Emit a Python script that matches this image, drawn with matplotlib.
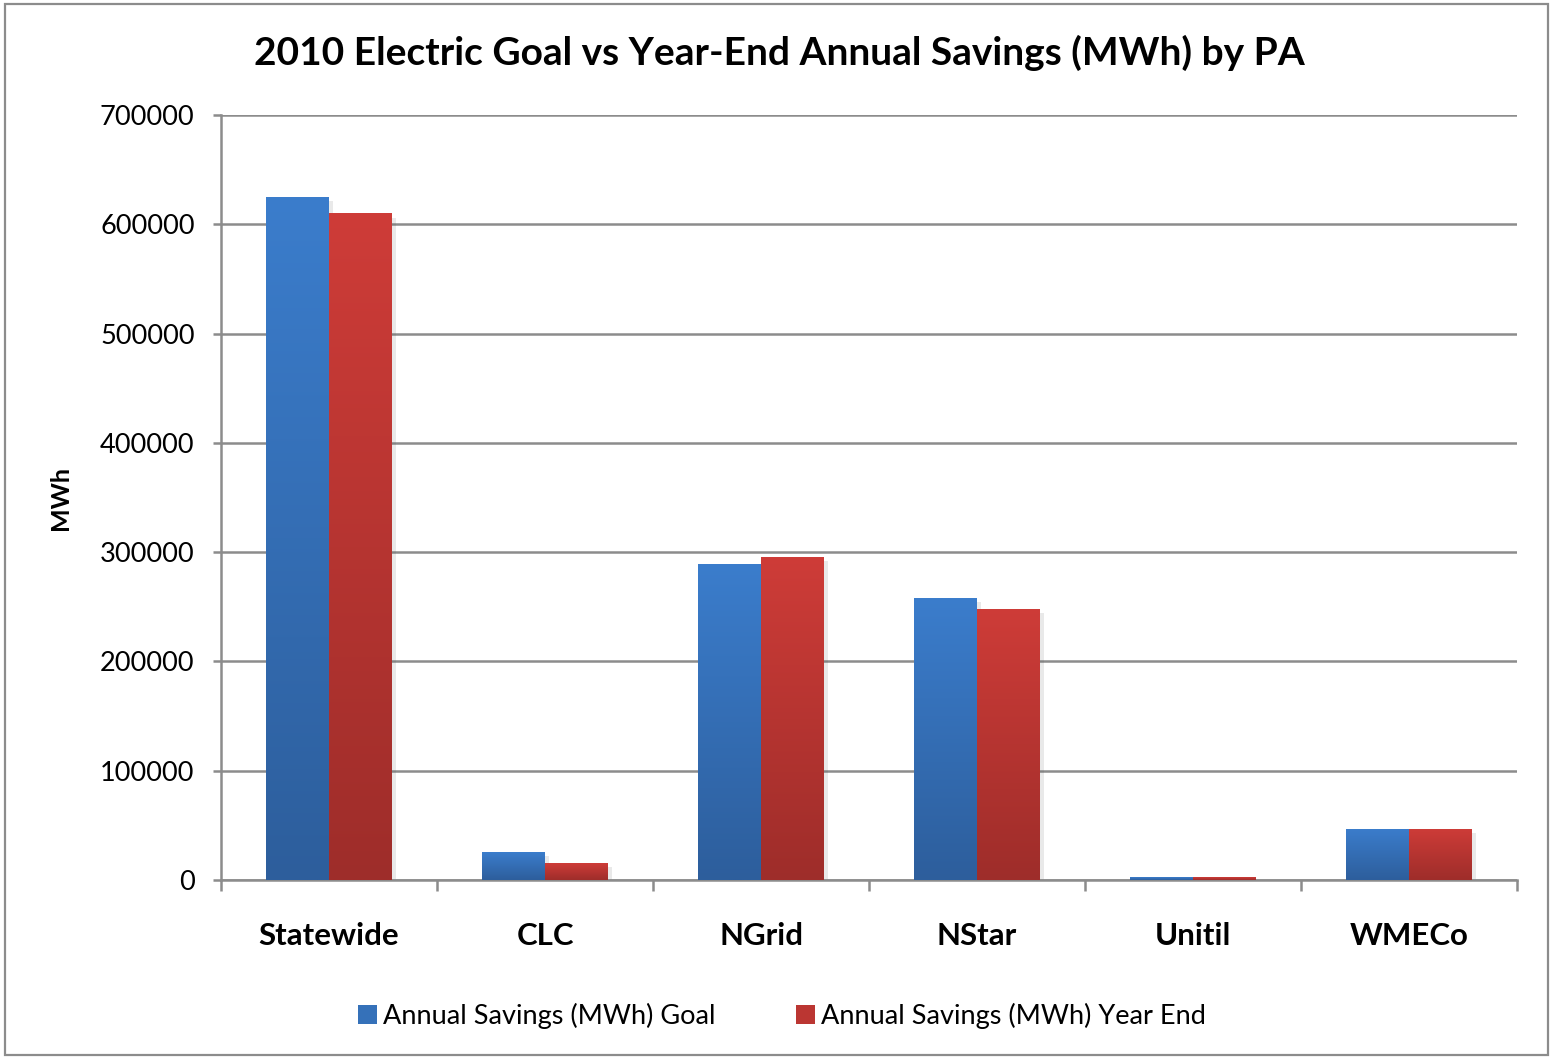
import numpy as np
import matplotlib
matplotlib.use("Agg")
import matplotlib.pyplot as plt
import matplotlib.patheffects as pe
from matplotlib.colors import LinearSegmentedColormap
from matplotlib.patches import Rectangle

plt.rcParams['font.family'] = ['Lato', 'DejaVu Sans']

categories = ['Statewide', 'CLC', 'NGrid', 'NStar', 'Unitil', 'WMECo']
goal = [625000, 25600, 289100, 258000, 2700, 46700]
year_end = [610000, 15500, 295500, 248000, 2700, 46700]
series_names = ['Annual Savings (MWh) Goal', 'Annual Savings (MWh) Year End']
yticks = [0, 100000, 200000, 300000, 400000, 500000, 600000, 700000]

blue_cmap = LinearSegmentedColormap.from_list('b', ['#2D5E9C', '#3B7DCC'])
red_cmap = LinearSegmentedColormap.from_list('r', ['#9E2D2A', '#CE3C38'])

fig = plt.figure(figsize=(15.5, 10.57), dpi=100)
ax = fig.add_axes([221 / 1550, 1 - 880 / 1057, (1517 - 221) / 1550, (880 - 115) / 1057])

# outer frame of the chart
fig.patches.append(Rectangle((0.003, 0.002), 0.996, 0.994, transform=fig.transFigure,
                             fill=False, edgecolor='#8c8c8c', linewidth=1.6))

x = np.arange(len(categories))
w = 0.29
grad = np.linspace(0, 1, 256).reshape(-1, 1)
shadow = [pe.SimplePatchShadow(offset=(3, -3), alpha=0.13, shadow_rgbFace='#555555'), pe.Normal()]

for vals, off, cmap in [(goal, -w / 2, blue_cmap), (year_end, w / 2, red_cmap)]:
    bars = ax.bar(x + off, vals, width=w, color=cmap(0.6), zorder=2, path_effects=shadow)
    for b in bars:
        im = ax.imshow(grad, cmap=cmap, origin='lower', aspect='auto', zorder=3,
                       extent=(b.get_x(), b.get_x() + b.get_width(), 0, b.get_height()))
        im.set_clip_path(b)

ax.set_xlim(-0.5, len(categories) - 0.5)
ax.set_ylim(0, 700000)
ax.set_yticks(yticks)
ax.set_yticklabels([str(t) for t in yticks], fontsize=19.5)
ax.yaxis.grid(True, color='#8c8c8c', linewidth=1.8, zorder=0)
ax.set_axisbelow(True)

ax.set_xticks(x)
ax.set_xticklabels(categories, fontsize=22.5, fontweight='bold')
ax.set_xticks(np.arange(-0.5, len(categories)), minor=True)
ax.tick_params(axis='x', which='major', length=0, pad=30)
ax.tick_params(axis='x', which='minor', length=8, width=1.8, color='#8c8c8c', direction='out')
ax.tick_params(axis='y', length=6, width=1.8, color='#8c8c8c', pad=13)

for s in ['top', 'right']:
    ax.spines[s].set_visible(False)
for s in ['left', 'bottom']:
    ax.spines[s].set_color('#8c8c8c')
    ax.spines[s].set_linewidth(1.8)

ax.set_ylabel('MWh', fontsize=18, fontweight='bold', labelpad=20)

fig.suptitle('2010 Electric Goal vs Year-End Annual Savings (MWh) by PA',
             x=(258 + 1300) / 2 / 1550, y=1 - 53 / 1057, va='center',
             fontsize=28, fontweight='bold')

handles = [Rectangle((0, 0), 1, 1, facecolor=blue_cmap(0.6)),
           Rectangle((0, 0), 1, 1, facecolor=red_cmap(0.6))]
fig.legend(handles, series_names, loc='center', bbox_to_anchor=(782 / 1550, 1 - 1016 / 1057),
           ncol=2, frameon=False, fontsize=19.5, handlelength=0.7, handleheight=0.7,
           handletextpad=0.2, columnspacing=3.0)

fig.savefig('out.png', dpi=100)
